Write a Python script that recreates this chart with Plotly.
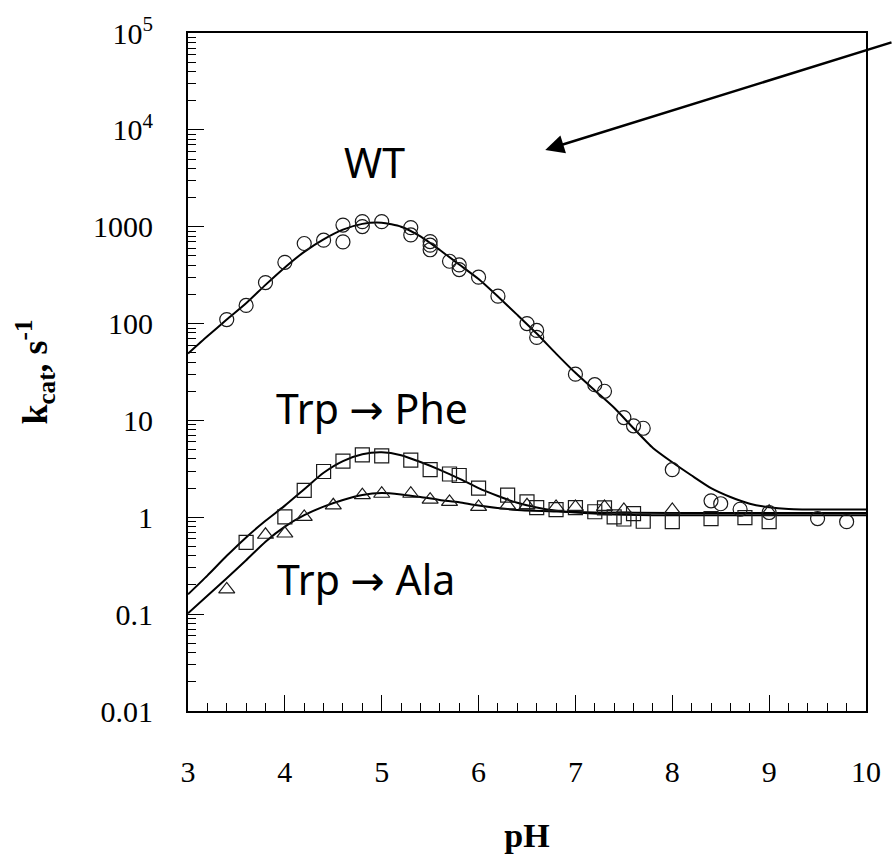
import plotly.graph_objects as go

# ---------------- data ----------------
wt_ph = [3.4, 3.6, 3.8, 4.0, 4.2, 4.4, 4.6, 4.6, 4.8, 4.8, 5.0, 5.3, 5.3, 5.5, 5.5, 5.5,
         5.7, 5.8, 5.8, 6.0, 6.2, 6.5, 6.6, 6.6, 7.0, 7.2, 7.3, 7.5, 7.6, 7.7, 8.0,
         8.4, 8.5, 8.7, 9.0, 9.5, 9.8]
wt_k = [110, 154, 265, 429, 671, 726, 697, 1040, 1128, 1003, 1128, 979, 822, 703, 645, 578,
        440, 403, 361, 301, 192, 100, 85, 72, 30, 23.4, 20, 10.7, 8.8, 8.3, 3.1,
        1.48, 1.38, 1.21, 1.12, 0.97, 0.90]

phe_ph = [3.6, 4.0, 4.2, 4.4, 4.6, 4.8, 5.0, 5.3, 5.5, 5.7, 5.8, 6.0, 6.3, 6.5, 6.6,
          6.8, 7.0, 7.2, 7.3, 7.4, 7.5, 7.6, 7.7, 8.0, 8.4, 8.75, 9.0]
phe_k = [0.55, 1.01, 1.9, 2.97, 3.8, 4.4, 4.3, 3.9, 3.1, 2.8, 2.7, 2.0, 1.69, 1.44, 1.26,
         1.2, 1.26, 1.14, 1.25, 1.01, 0.96, 1.09, 0.91, 0.90, 0.97, 0.99, 0.90]

ala_ph = [3.4, 3.8, 4.0, 4.2, 4.5, 4.8, 5.0, 5.3, 5.5, 5.7, 6.0, 6.3, 6.5, 6.8, 7.0,
          7.3, 7.5, 8.0, 9.0]
ala_k = [0.18, 0.66, 0.68, 1.01, 1.33, 1.69, 1.75, 1.75, 1.52, 1.44, 1.28, 1.33, 1.33,
         1.28, 1.28, 1.28, 1.19, 1.19, 1.14]

# fitted curves
wt_fit_ph = [3.0, 3.2, 3.4, 3.6, 3.8, 4.0, 4.2, 4.4, 4.6, 4.8, 5.0, 5.2, 5.4, 5.6, 5.8,
             6.0, 6.2, 6.4, 6.6, 6.8, 7.0, 7.2, 7.4, 7.6, 7.8, 8.0, 8.2, 8.4, 8.6, 8.8,
             9.0, 9.2, 9.6, 10.0]
wt_fit_k = [49, 74, 110, 162, 251, 380, 550, 741, 933, 1070, 1100, 1000, 794, 575, 407,
            288, 190, 123, 79, 49, 31, 20.4, 13.5, 8.3, 5.2, 3.7, 2.7, 2.0, 1.62, 1.38,
            1.27, 1.22, 1.2, 1.2]

phe_fit_ph = [3.0, 3.2, 3.4, 3.6, 3.8, 4.0, 4.2, 4.4, 4.6, 4.8, 5.0, 5.2, 5.4, 5.6, 5.8,
              6.0, 6.2, 6.4, 6.6, 6.8, 7.0, 7.4, 8.0, 10.0]
phe_fit_k = [0.16, 0.25, 0.40, 0.62, 0.92, 1.32, 1.95, 2.88, 3.8, 4.47, 4.68, 4.37, 3.72,
             3.09, 2.51, 2.0, 1.66, 1.41, 1.26, 1.17, 1.12, 1.07, 1.05, 1.05]

ala_fit_ph = [3.0, 3.2, 3.4, 3.6, 3.8, 4.0, 4.2, 4.4, 4.6, 4.8, 5.0, 5.2, 5.4, 5.6, 5.8,
              6.0, 6.4, 6.8, 7.2, 8.0, 10.0]
ala_fit_k = [0.102, 0.155, 0.235, 0.36, 0.56, 0.80, 1.05, 1.29, 1.51, 1.70, 1.78, 1.72,
             1.62, 1.51, 1.43, 1.32, 1.19, 1.15, 1.12, 1.11, 1.11]

y_tickvals = [0.01, 0.1, 1, 10, 100, 1000, 1e4, 1e5]
y_ticktext = ["0.01", "0.1", "1", "10", "100", "1000", "10<sup>4</sup>", "10<sup>5</sup>"]
x_tickvals = [3, 4, 5, 6, 7, 8, 9, 10]

# ---------------- figure ----------------
ink = "#1a1a1a"
fig = go.Figure()

for xs, ys in [(wt_fit_ph, wt_fit_k), (phe_fit_ph, phe_fit_k), (ala_fit_ph, ala_fit_k)]:
    fig.add_trace(go.Scatter(x=xs, y=ys, mode="lines",
                             line=dict(color="black", width=2, shape="spline", smoothing=0.6),
                             showlegend=False, hoverinfo="skip"))

for xs, ys, sym, name in [(wt_ph, wt_k, "circle-open", "WT"),
                          (phe_ph, phe_k, "square-open", "Trp → Phe"),
                          (ala_ph, ala_k, "triangle-up-open", "Trp → Ala")]:
    fig.add_trace(go.Scatter(x=xs, y=ys, mode="markers", name=name,
                             marker=dict(symbol=sym, size=14, color=ink,
                                         line=dict(width=1.2, color=ink)),
                             showlegend=False))

serif = "Liberation Serif"
sans = "Noto Sans"

fig.update_layout(
    width=893, height=860,
    margin=dict(l=188, r=18, t=27, b=149),
    plot_bgcolor="white", paper_bgcolor="white",
    xaxis=dict(range=[3, 10], tickvals=x_tickvals, ticks="inside", ticklen=16,
               tickwidth=1.2, tickcolor="black",
               minor=dict(dtick=0.2, ticks="inside", ticklen=8, tickwidth=1, tickcolor="black"),
               showline=True, linecolor="black", linewidth=2, mirror=True,
               showgrid=False, zeroline=False,
               tickfont=dict(family=serif, size=30, color="black"),
               ticklabelstandoff=33,
               title=dict(text="<b>pH</b>", font=dict(family=serif, size=34, color="black"),
                          standoff=36)),
    yaxis=dict(type="log", range=[-2, 5], tickvals=y_tickvals, ticktext=y_ticktext,
               ticks="inside", ticklen=16, tickwidth=1.2, tickcolor="black",
               minor=dict(dtick="D1", ticks="inside", ticklen=8, tickwidth=1, tickcolor="black"),
               showline=True, linecolor="black", linewidth=2, mirror=True,
               showgrid=False, zeroline=False,
               tickfont=dict(family=serif, size=30, color="black"),
               ticklabelstandoff=27,
               title=dict(text="<b>k<sub>cat</sub>, s<sup>-1</sup></b>",
                          font=dict(family=serif, size=36, color="black"),
                          standoff=34)),
)

def px(xp):
    return (xp - 188) / 687.0

def py(yp):
    return (711 - yp) / 684.0

arrow = "<span style='font-family:DejaVu Sans'>→</span>"
for text, cx, cy in [("WT", 377, 157), ("Trp " + arrow + " Phe", 374, 405),
                     ("Trp " + arrow + " Ala", 368, 578)]:
    fig.add_annotation(text=text, x=px(cx), y=py(cy), xref="paper", yref="paper",
                       showarrow=False, xanchor="center", yanchor="middle",
                       font=dict(family=sans, size=41, color="black"))

# arrow pointing into the empty upper area
fig.add_annotation(text="", x=px(550), y=py(145), xref="paper", yref="paper",
                   showarrow=True, ax=348, ay=-108, arrowhead=2, arrowsize=1.5,
                   arrowwidth=2.5, arrowcolor="black", standoff=0)

fig.write_html("out.html", config={"displayModeBar": False},
               post_script="document.body.style.margin='0';")
